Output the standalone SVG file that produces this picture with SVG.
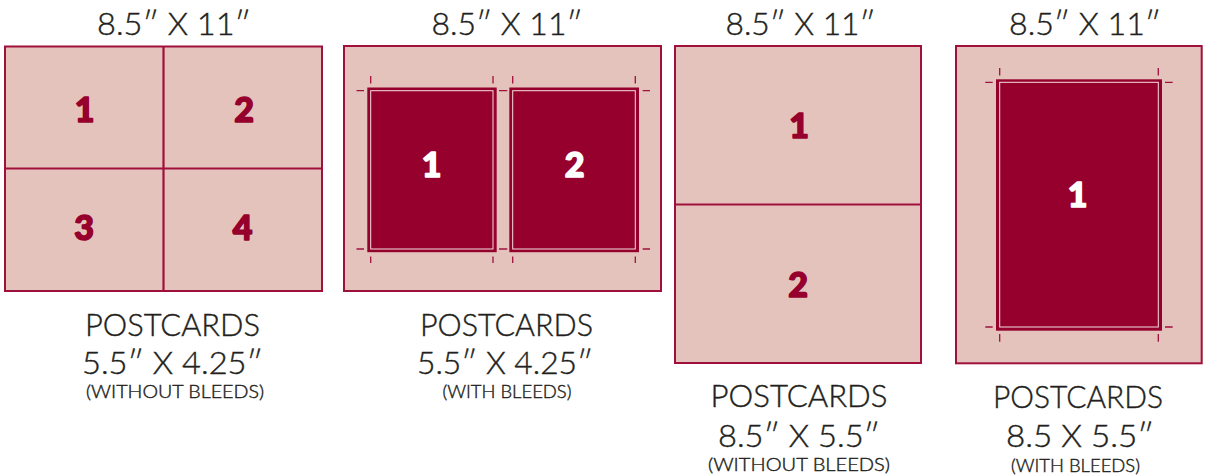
<svg xmlns="http://www.w3.org/2000/svg" width="1207" height="476" viewBox="0 0 1207 476">
<style>
.sheet{fill:#e5c3bd;stroke:#a0103c;stroke-width:2}
.div{stroke:#a0103c;stroke-width:2.2;fill:none}
.bleed{fill:#96002d}
.trim{fill:none;stroke:#f3e0dc;stroke-width:1}
.tick{stroke:#a0103c;stroke-width:1.3;fill:none}
.t{font-family:Lato,"Liberation Sans",sans-serif;font-weight:300;fill:#231f20;stroke:#231f20;stroke-width:0.4;text-anchor:middle}
.big{font-size:30.5px}
.small{font-size:17.5px}
.numr{font-family:Lato,"Liberation Sans",sans-serif;font-weight:900;font-size:34px;fill:#96002d;stroke:#96002d;stroke-width:1.6;stroke-linejoin:round;text-anchor:middle}
.numw{font-family:Lato,"Liberation Sans",sans-serif;font-weight:900;font-size:34px;fill:#ffffff;stroke:#ffffff;stroke-width:1.6;stroke-linejoin:round;text-anchor:middle}
</style>
<rect width="1207" height="476" fill="#ffffff"/>

<g id="panel1">
<text class="t big" x="174" y="35" textLength="154" lengthAdjust="spacingAndGlyphs">8.5″ X 11″</text>
<rect class="sheet" x="5" y="46.5" width="317" height="244.5"/>
<line class="div" x1="163.5" y1="46.5" x2="163.5" y2="291"/>
<line class="div" x1="5" y1="168.5" x2="322" y2="168.5"/>
<text class="numr" x="84.5" y="121.5">1</text>
<text class="numr" x="244" y="121.5">2</text>
<text class="numr" x="84" y="240">3</text>
<text class="numr" x="242.5" y="240">4</text>
<text class="t big" x="172.5" y="336" textLength="175" lengthAdjust="spacingAndGlyphs">POSTCARDS</text>
<text class="t big" x="172.5" y="373.5" textLength="181" lengthAdjust="spacingAndGlyphs">5.5″ X 4.25″</text>
<text class="t small" x="175" y="397.5" textLength="178" lengthAdjust="spacingAndGlyphs">(WITHOUT BLEEDS)</text>
</g>

<g id="panel2">
<text class="t big" x="507" y="35" textLength="151" lengthAdjust="spacingAndGlyphs">8.5″ X 11″</text>
<rect class="sheet" x="344" y="46" width="317" height="245"/>
<rect class="bleed" x="367.3" y="87.5" width="129.4" height="164.7"/>
<rect class="trim" x="370.7" y="90.7" width="122.3" height="158.3"/>
<rect class="bleed" x="509.3" y="87.5" width="129.7" height="164.7"/>
<rect class="trim" x="512.7" y="90.7" width="122.6" height="158.3"/>
<path class="tick" d="M370.7 76V83.5M493 76V83.5M512.7 76V83.5M635.3 76V83.5M370.7 256.5V263M493 256.5V263M512.7 256.5V263M635.3 256.5V263M356.5 90.7H364M499 90.7H507.3M642.7 90.7H650M356.5 249H364M499 249H507.3M642.7 249H650"/>
<text class="numw" x="431.7" y="177.3">1</text>
<text class="numw" x="574.5" y="177.3">2</text>
<text class="t big" x="506.5" y="336" textLength="173" lengthAdjust="spacingAndGlyphs">POSTCARDS</text>
<text class="t big" x="505" y="373.5" textLength="176" lengthAdjust="spacingAndGlyphs">5.5″ X 4.25″</text>
<text class="t small" x="507" y="397.5" textLength="129" lengthAdjust="spacingAndGlyphs">(WITH BLEEDS)</text>
</g>

<g id="panel3">
<text class="t big" x="800.5" y="35" textLength="150" lengthAdjust="spacingAndGlyphs">8.5″ X 11″</text>
<rect class="sheet" x="675" y="46" width="246" height="317"/>
<line class="div" x1="675" y1="204.5" x2="921" y2="204.5"/>
<text class="numr" x="799" y="138.3">1</text>
<text class="numr" x="798" y="297">2</text>
<text class="t big" x="799" y="407" textLength="177" lengthAdjust="spacingAndGlyphs">POSTCARDS</text>
<text class="t big" x="799" y="446.5" textLength="162" lengthAdjust="spacingAndGlyphs">8.5″ X 5.5″</text>
<text class="t small" x="799" y="471" textLength="182" lengthAdjust="spacingAndGlyphs">(WITHOUT BLEEDS)</text>
</g>

<g id="panel4">
<text class="t big" x="1085" y="35" textLength="152" lengthAdjust="spacingAndGlyphs">8.5″ X 11″</text>
<rect class="sheet" x="956" y="46" width="245.7" height="317.3"/>
<rect class="bleed" x="996" y="79.3" width="166" height="251.4"/>
<rect class="trim" x="999.7" y="82.3" width="158.6" height="244.7"/>
<path class="tick" d="M999.7 68V75.5M1158.3 68V75.5M999.7 334V341.7M1158.3 334V341.7M985.3 82.3H992.7M1165 82.3H1172.7M985.3 327H992.7M1165 327H1172.7"/>
<text class="numw" x="1077.5" y="206.7">1</text>
<text class="t big" x="1078" y="407.5" textLength="170" lengthAdjust="spacingAndGlyphs">POSTCARDS</text>
<text class="t big" x="1080" y="447" textLength="148" lengthAdjust="spacingAndGlyphs">8.5 X 5.5″</text>
<text class="t small" x="1075.5" y="471.5" textLength="129" lengthAdjust="spacingAndGlyphs">(WITH BLEEDS)</text>
</g>
</svg>
